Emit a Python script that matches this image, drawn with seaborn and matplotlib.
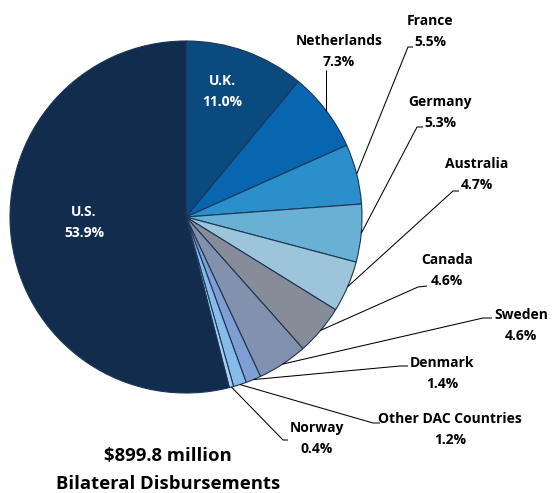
import numpy as np
import matplotlib
matplotlib.use("Agg")
import matplotlib.pyplot as plt
import seaborn as sns

sns.set_theme(style="white")
plt.rcParams['font.family'] = ['Open Sans', 'DejaVu Sans']

# data, clockwise from 12 o'clock
countries = ["U.K.", "Netherlands", "France", "Germany", "Australia", "Canada",
             "Sweden", "Denmark", "Other DAC Countries", "Norway", "U.S."]
shares = [11.0, 7.3, 5.5, 5.3, 4.7, 4.6, 4.6, 1.4, 1.2, 0.4, 53.9]
total_text = "$899.8 million"
subtitle = "Bilateral Disbursements"

colors = ["#0b4a7f", "#0866b0", "#2b8fcb", "#69b0d5", "#9cc5db", "#878d98",
          "#8292ae", "#7f9fd2", "#86bbea", "#a8d3f0", "#122c4d"]

W, H = 557, 493
fig = plt.figure(figsize=(W / 100, H / 100), dpi=100)
ax = fig.add_axes([0, 0, 1, 1])

cx, cy, r = 186, H - 217, 176
wedges, _ = ax.pie(shares, colors=colors, startangle=90, counterclock=False,
                   center=(cx, cy), radius=r,
                   wedgeprops=dict(edgecolor="#1c3557", linewidth=0.8))
ax.set_xlim(0, W)
ax.set_ylim(0, H)
ax.axis("off")

# label layout in pixel coords (top-left origin): text x, first line y, leader elbow, leader end
layout = {
    "U.K.": (222, 81, None, None),
    "U.S.": (84, 212, None, None),
    "Netherlands": (339, 41, None, (None, 70)),
    "France": (430, 21, (408, 47), (413, 47)),
    "Germany": (440, 102, (417, 127), (423, 127)),
    "Australia": (477, 164, (453, 191), (459, 191)),
    "Canada": (447, 260, (418, 287), (427, 286)),
    "Sweden": (521, 315, (483, 318), (492, 318)),
    "Denmark": (442, 363, (400, 366), (408, 366)),
    "Other DAC Countries": (450, 419, (373, 423), (380, 423)),
    "Norway": (317, 428, (283, 440), (288, 440)),
}
fs = 10
for w, name, val in zip(wedges, countries, shares):
    tx, ty, elbow, end = layout[name]
    inside = elbow is None and end is None
    col = "white" if inside else "black"
    ax.text(tx, H - ty, name, ha="center", va="center", fontsize=fs,
            fontweight="bold", color=col)
    ax.text(tx, H - ty - 21, f"{val:.1f}%", ha="center", va="center",
            fontsize=fs, fontweight="bold", color=col)
    if inside:
        continue
    mid = np.deg2rad((w.theta1 + w.theta2) / 2)
    ex, ey = cx + r * np.cos(mid), cy + r * np.sin(mid)
    if elbow is None:
        xs, ys = [ex, ex], [ey, H - end[1]]
    else:
        xs = [ex, elbow[0], end[0]]
        ys = [ey, H - elbow[1], H - end[1]]
    ax.plot(xs, ys, color="black", linewidth=0.75, solid_capstyle="butt")

ax.text(168, H - 456, total_text, ha="center", va="center", fontsize=13.3,
        fontweight="bold", color="black")
ax.text(168, H - 484, subtitle, ha="center", va="center", fontsize=13.3,
        fontweight="bold", color="black")

fig.savefig("out.png", dpi=100)
